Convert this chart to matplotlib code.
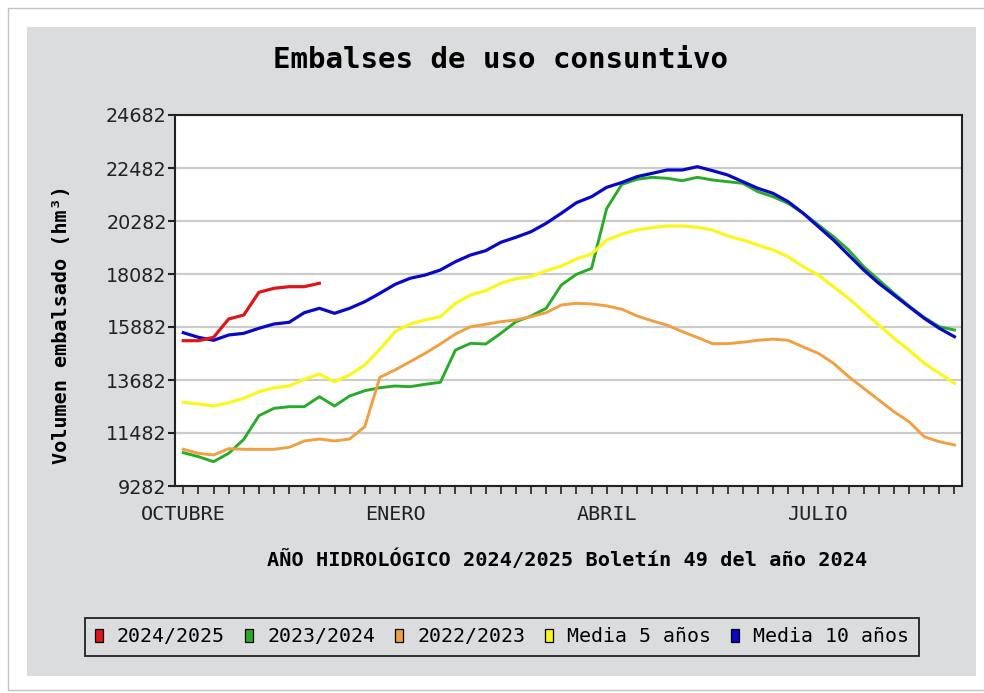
"""Volumen embalsado de los embalses de uso consuntivo, por semanas del año
hidrológico, comparado con los dos años anteriores y las medias.
"""

import numpy as np
import matplotlib
matplotlib.use('Agg')
from matplotlib import pyplot as plt
from matplotlib.patches import Patch
from matplotlib.patches import Rectangle


# =============================================================================
# Data (hm3, one value per week of the hydrological year)
# =============================================================================
semanas = np.arange(52)

vol_2024_2025 = [15313, 15313, 15454, 16214, 16380, 17322, 17488, 17555,
    17555, 17696]

vol_2023_2024 = [10665, 10499, 10291, 10638, 11220, 12200, 12507, 12574,
    12574, 12989, 12603, 13018, 13237, 13362, 13433, 13404, 13504, 13587,
    14927, 15205, 15176, 15620, 16103, 16339, 16658, 17626, 18068, 18317,
    20800, 21800, 22012, 22095, 22054, 21955, 22095, 21984, 21914, 21846,
    21500, 21291, 21015, 20602, 20120, 19632, 19078, 18386, 17834, 17281,
    16755, 16283, 15895, 15757]

vol_2022_2023 = [10805, 10638, 10569, 10831, 10805, 10805, 10805, 10888,
    11150, 11233, 11150, 11233, 11744, 13794, 14097, 14442, 14790, 15176,
    15592, 15895, 15994, 16103, 16173, 16310, 16476, 16796, 16866, 16838,
    16760, 16620, 16345, 16138, 15960, 15690, 15446, 15190, 15190, 15250,
    15330, 15378, 15330, 15053, 14790, 14375, 13821, 13337, 12852, 12366,
    11951, 11328, 11121, 10984]

media_5 = [12756, 12686, 12603, 12740, 12922, 13196, 13362, 13433, 13711,
    13931, 13612, 13890, 14305, 14956, 15687, 16007, 16173, 16310, 16866,
    17211, 17390, 17696, 17888, 17972, 18220, 18414, 18705, 18912, 19490,
    19735, 19909, 20006, 20075, 20075, 20020, 19909, 19660, 19494, 19286,
    19078, 18801, 18386, 18040, 17555, 17073, 16518, 15965, 15413, 14927,
    14375, 13960, 13545]

media_10 = [15646, 15454, 15330, 15550, 15620, 15828, 16007, 16077, 16476,
    16658, 16450, 16658, 16932, 17281, 17650, 17904, 18040, 18248, 18594,
    18871, 19050, 19398, 19606, 19839, 20187, 20602, 21042, 21291, 21680,
    21880, 22122, 22260, 22399, 22399, 22537, 22371, 22192, 21914, 21639,
    21431, 21084, 20602, 20047, 19494, 18871, 18248, 17696, 17211, 16725,
    16241, 15828, 15480]

series_labels = ['2024/2025', '2023/2024', '2022/2023', 'Media 5 años',
    'Media 10 años']
meses = ['OCTUBRE', 'ENERO', 'ABRIL', 'JULIO']
meses_idx = [0, 14, 28, 42]
yticks = [9282, 11482, 13682, 15882, 18082, 20282, 22482, 24682]


# =============================================================================
# Plot parameters
# =============================================================================
mono = 'DejaVu Sans Mono'
matplotlib.rcParams['font.family'] = 'DejaVu Sans'
matplotlib.rcParams['axes.linewidth'] = 1.5
colors = {
    '2024/2025': (222/255, 22/255, 22/255),
    '2023/2024': (40/255, 172/255, 40/255),
    '2022/2023': (240/255, 160/255, 64/255),
    'Media 5 años': (250/255, 246/255, 30/255),
    'Media 10 años': (8/255, 8/255, 200/255),
}
panel = '#dbdcde'


# =============================================================================
# Figure
# =============================================================================
fig = plt.figure(figsize=(9.84, 6.93), dpi=100)
fig.patch.set_facecolor('white')

# Grey panel and the thin frame around it
fig.patches.append(Rectangle((8/984, 3/693), 1.1, 682/693,
    transform=fig.transFigure, facecolor='none', edgecolor='#c4c4c4',
    linewidth=1, zorder=-2))
fig.patches.append(Rectangle((27/984, 17/693), 949/984, 649/693,
    transform=fig.transFigure, facecolor=panel, edgecolor='none', zorder=-1))

ax = fig.add_axes([175/984, 1 - 486/693, 787/984, 371/693])
ax.set_zorder(1)
ax.set_facecolor('white')

# Lines (drawn from the oldest to the newest)
ax.plot(semanas, media_10, color=colors['Media 10 años'], linewidth=2.3,
    zorder=3)
ax.plot(semanas, vol_2023_2024, color=colors['2023/2024'], linewidth=2.1,
    zorder=2)
ax.plot(semanas, media_5, color=colors['Media 5 años'], linewidth=2.3,
    zorder=2)
ax.plot(semanas, vol_2022_2023, color=colors['2022/2023'], linewidth=2.1,
    zorder=2)
ax.plot(semanas[:len(vol_2024_2025)], vol_2024_2025,
    color=colors['2024/2025'], linewidth=2.3, zorder=4)

# y-axis parameters
ax.set_ylim(9282, 24682)
ax.set_yticks(yticks)
ax.set_yticklabels([str(t) for t in yticks], fontsize=13.8)
ax.yaxis.grid(True, color='#cbcbcb', linewidth=1.6)
ax.set_axisbelow(True)
ax.tick_params(axis='y', length=5, width=1.5, pad=1, colors='#222222')

# x-axis parameters
ax.set_xlim(-0.55, 51.5)
ax.set_xticks(semanas)
ax.set_xticklabels([meses[meses_idx.index(i)] if i in meses_idx else ''
    for i in semanas], fontfamily=mono, fontsize=14.5)
ax.tick_params(axis='x', length=6, width=1.2, pad=8, colors='#222222')

for side in ['top', 'right', 'left', 'bottom']:
    ax.spines[side].set_color('#222222')

# Titles
fig.text(500/984, 1 - 60/693, 'Embalses de uso consuntivo', fontfamily=mono,
    fontweight='bold', fontsize=21, ha='center', va='center')
fig.text(567/984, 1 - 560/693,
    'AÑO HIDROLÓGICO 2024/2025 Boletín 49 del año 2024', fontfamily=mono,
    fontweight='bold', fontsize=14.6, ha='center', va='center')
fig.text(62/984, 1 - 325/693, 'Volumen embalsado (hm³)', fontfamily=mono,
    fontweight='bold', fontsize=14.5, rotation=90, ha='center', va='center')

# Legend
handles = [Patch(facecolor=colors[lab], edgecolor='black', linewidth=0.9)
    for lab in series_labels]
leg = fig.legend(handles, series_labels, loc='center', ncol=5,
    bbox_to_anchor=(502/984, 1 - 637/693), frameon=True, fancybox=False,
    edgecolor='#222222', facecolor=panel, framealpha=1,
    prop={'family': mono, 'size': 14.3}, handlelength=0.42,
    handleheight=0.6, handletextpad=0.7, columnspacing=1.0, borderpad=0.5)
leg.get_frame().set_linewidth(1.3)

fig.savefig('out.png', dpi=100)
plt.close()
